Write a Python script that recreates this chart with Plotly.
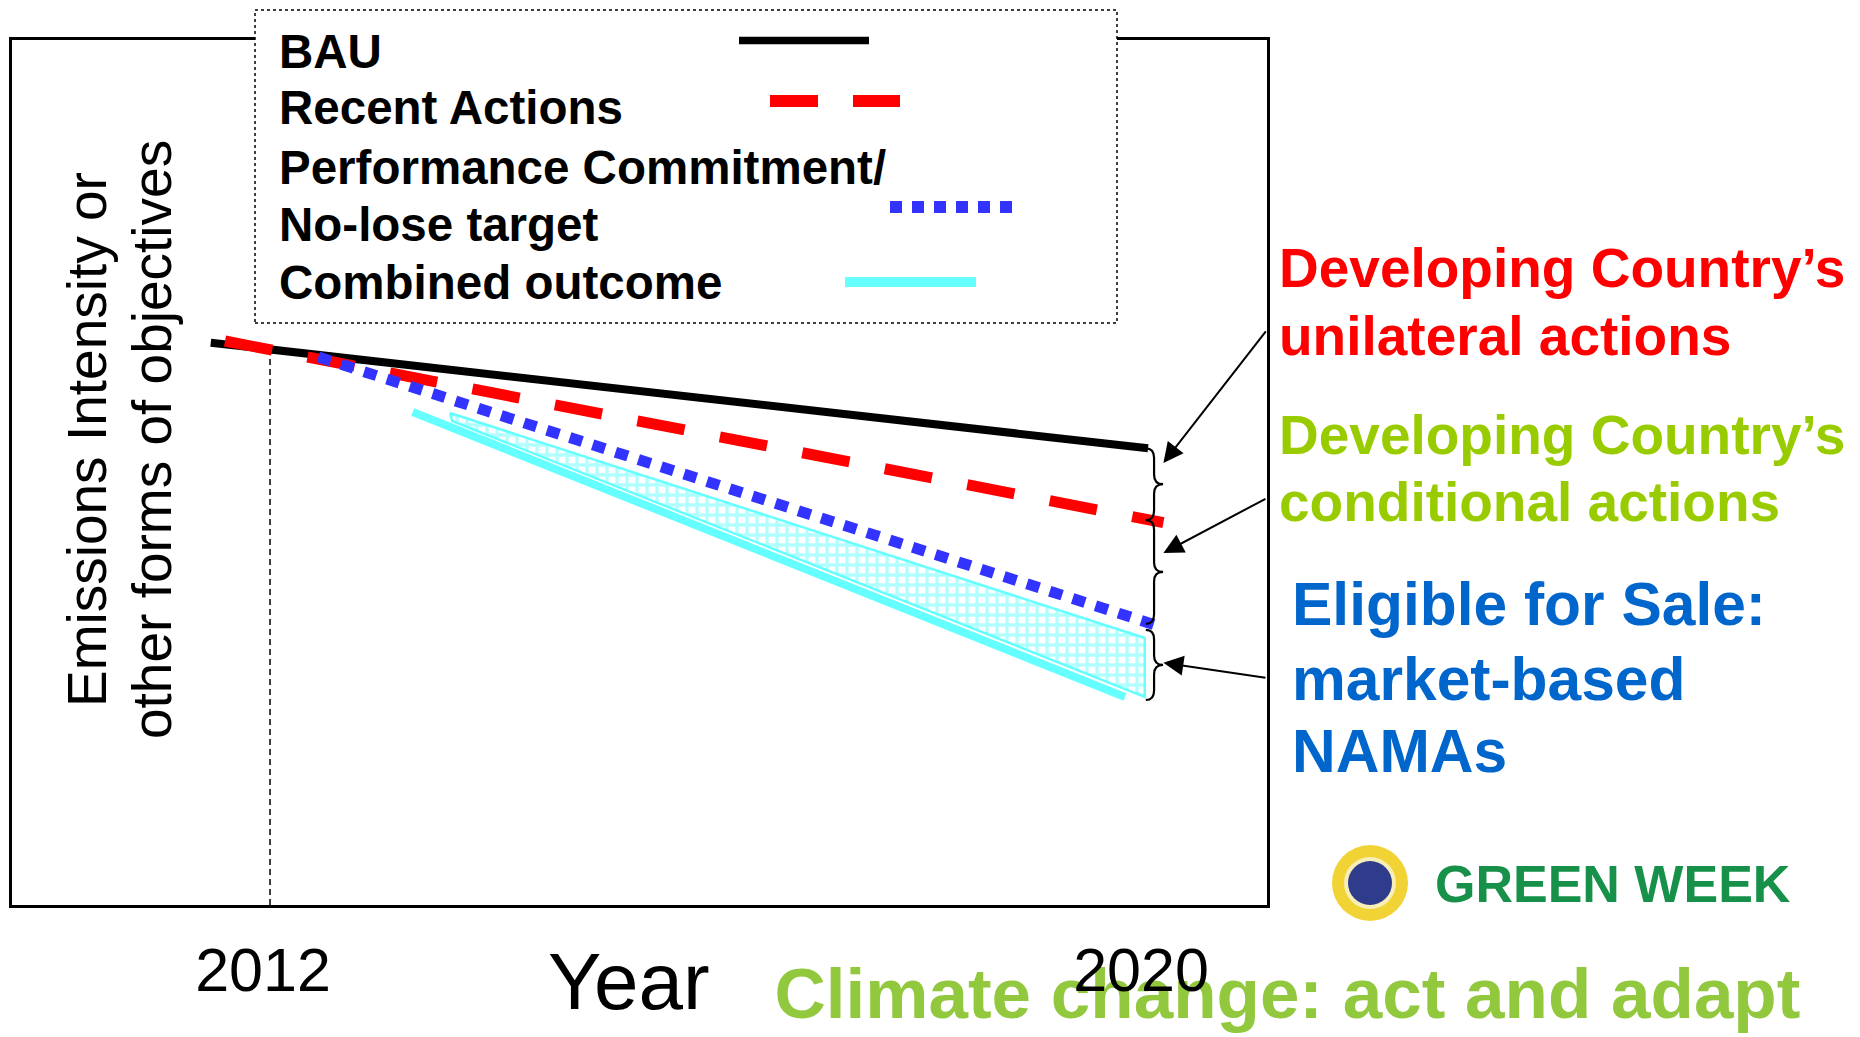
import plotly.graph_objects as go

# ---------------- data ----------------
BAU_YEARS = [2011.46, 2020.0]
BAU_VALUES = [65.0, 52.8]
RECENT_YEARS = [2011.59, 2020.14]
RECENT_VALUES = [65.2, 44.2]
TARGET_YEARS = [2012.44, 2020.06]
TARGET_VALUES = [63.35, 32.4]
COMBINED_YEARS = [2013.30, 2019.79]
COMBINED_VALUES = [57.0, 24.05]
SALE_YEARS = [2013.64, 2019.97, 2019.97, 2013.66, 2013.64]
SALE_VALUES = [56.88, 30.87, 24.05, 55.95, 56.88]
BASE_YEAR = [2012, 2012]
BASE_YEAR_VALUES = [0, 64.3]
TICK_YEARS = [2012, 2020]
TICK_LABELS = ["2012", "2020"]
X_RANGE = [2009.649, 2021.084]
Y_RANGE = [0, 100]

# braces at 2020: (upper value, lower value)
BRACE_SPANS = [(52.8, 44.5), (44.5, 32.5), (31.8, 23.7)]
ARROW_TIP_VALUES = [51.1, 40.7, 28.0]
ARROW_TAIL_VALUES = [66.5, 47.05, 26.24]

LEGEND_LABELS = ["BAU", "Recent Actions", "Performance Commitment/",
                 "No-lose target", "Combined outcome"]
Y_TITLE_LINES = ["Emissions Intensity or", "other forms of objectives"]
X_TITLE = "Year"
UNILATERAL = ["Developing Country\u2019s", "unilateral actions"]
CONDITIONAL = ["Developing Country\u2019s", "conditional actions"]
SALE = ["Eligible for Sale:", "market-based", "NAMAs"]
BANNER = "Climate change: act and adapt"
LOGO = "GREEN WEEK"

# ---------------- styles ----------------
W, H = 1860, 1037
ML, MR, MT, MB = 12, 593, 40, 132
FONT = "Liberation Sans, Arial, sans-serif"
BLACK = "#000000"
RED = "#FF0000"
BLUE = "#3333FF"
CYAN = "#66FFFF"


def px(x):
    return (x - ML) / (W - ML - MR)


def py(y):
    return (H - MB - y) / (H - MT - MB)


fig = go.Figure()

fig.add_trace(go.Scatter(x=BASE_YEAR, y=BASE_YEAR_VALUES, mode="lines",
                         line=dict(color=BLACK, width=1.5, dash="6px,4px"),
                         hoverinfo="skip"))
fig.add_trace(go.Scatter(x=SALE_YEARS, y=SALE_VALUES, mode="lines", fill="toself",
                         line=dict(color=CYAN, width=2.5),
                         fillpattern=dict(shape="+", fgcolor=CYAN, bgcolor="white",
                                          size=10, solidity=0.55),
                         hoverinfo="skip"))
fig.add_trace(go.Scatter(x=COMBINED_YEARS, y=COMBINED_VALUES, mode="lines",
                         line=dict(color=CYAN, width=8)))
fig.add_trace(go.Scatter(x=BAU_YEARS, y=BAU_VALUES, mode="lines",
                         line=dict(color=BLACK, width=8)))
fig.add_trace(go.Scatter(x=RECENT_YEARS, y=RECENT_VALUES, mode="lines",
                         line=dict(color=RED, width=11, dash="48px,36px")))
fig.add_trace(go.Scatter(x=TARGET_YEARS, y=TARGET_VALUES, mode="lines",
                         line=dict(color=BLUE, width=11, dash="13px,11px")))

shapes = []
# banner text, kept below the axis layer so the tick label sits on top
shapes.append(dict(type="rect", xref="paper", yref="paper",
                   x0=px(760), x1=px(1815), y0=py(1026), y1=py(946),
                   line=dict(width=0), fillcolor="rgba(0,0,0,0)", layer="below",
                   label=dict(text=BANNER, textposition="middle center",
                              font=dict(family=FONT, size=71, color="#92C83E",
                                        weight="bold"))))

# braces
for (yt, yb) in BRACE_SPANS:
    xb, xm, xt, d = 2019.98, 2020.055, 2020.137, 1.1
    ym = (yt + yb) / 2
    path = (f"M {xb},{yt} Q {xm},{yt} {xm},{yt - d} L {xm},{ym + d} "
            f"Q {xm},{ym} {xt},{ym} Q {xm},{ym} {xm},{ym - d} "
            f"L {xm},{yb + d} Q {xm},{yb} {xb},{yb}")
    shapes.append(dict(type="path", path=path, xref="x", yref="y",
                       line=dict(color=BLACK, width=2.2)))

# legend box
shapes.append(dict(type="rect", xref="paper", yref="paper",
                   x0=px(255), x1=px(1117), y0=py(323), y1=py(10),
                   line=dict(color=BLACK, width=1.5, dash="dot"),
                   fillcolor="white", layer="above"))
# legend keys
keys = [
    (739, 869, 40.5, dict(color=BLACK, width=7.5)),
    (770, 900, 101, dict(color=RED, width=12, dash="48px,35px")),
    (890, 1012, 207, dict(color=BLUE, width=12, dash="12px,10px")),
    (845, 976, 282, dict(color=CYAN, width=10)),
]
for x0, x1, yy, ln in keys:
    shapes.append(dict(type="line", xref="paper", yref="paper",
                       x0=px(x0), x1=px(x1), y0=py(yy), y1=py(yy), line=ln,
                       layer="above"))

# logo emblem
for r, col in [(38, "#F2D335"), (26, "#F7EEB8"), (22, "#2F3C8C")]:
    shapes.append(dict(type="circle", xref="paper", yref="paper",
                       x0=px(1370 - r), x1=px(1370 + r), y0=py(883 + r), y1=py(883 - r),
                       line=dict(width=0), fillcolor=col, layer="above"))

annotations = []
legend_y = [52, 108, 167, 225, 282]
for lab, yy in zip(LEGEND_LABELS, legend_y):
    annotations.append(dict(text=f"<b>{lab}</b>", xref="paper", yref="paper",
                            x=px(277), y=py(yy), xanchor="left", yanchor="middle",
                            showarrow=False,
                            font=dict(family=FONT, size=47.5, color=BLACK)))

for txt, xx in zip(Y_TITLE_LINES, [87, 152]):
    annotations.append(dict(text=txt, xref="paper", yref="paper", x=px(xx), y=py(440),
                            textangle=-90, xanchor="center", yanchor="middle",
                            showarrow=False,
                            font=dict(family=FONT, size=55, color=BLACK)))

annotations.append(dict(text=X_TITLE, xref="paper", yref="paper", x=px(629), y=py(981),
                        xanchor="center", yanchor="middle", showarrow=False,
                        font=dict(family=FONT, size=80, color=BLACK)))

for lines, ys, col, size, xl in [
    (UNILATERAL, [268, 335.5], RED, 55, 1277),
    (CONDITIONAL, [435, 502], "#99CC00", 55, 1277),
    (SALE, [603.5, 678.5, 750.5], "#0066CC", 60.5, 1290),
]:
    for t, yy in zip(lines, ys):
        annotations.append(dict(text=f"<b>{t}</b>", xref="paper", yref="paper",
                                x=px(xl), y=py(yy), xanchor="left", yanchor="middle",
                                showarrow=False,
                                font=dict(family=FONT, size=size, color=col)))

for tip, tail in zip(ARROW_TIP_VALUES, ARROW_TAIL_VALUES):
    annotations.append(dict(text="", x=2020.14, y=tip, ax=X_RANGE[1], ay=tail,
                            xref="x", yref="y", axref="x", ayref="y",
                            showarrow=True, arrowhead=2, arrowsize=2,
                            arrowwidth=2, arrowcolor=BLACK, standoff=0))

annotations.append(dict(text=f"<b>{LOGO}</b>", xref="paper", yref="paper",
                        x=px(1613), y=py(884), xanchor="center", yanchor="middle",
                        showarrow=False,
                        font=dict(family=FONT, size=52, color="#17914A")))

fig.update_layout(
    width=W, height=H,
    margin=dict(l=ML, r=MR, t=MT, b=MB),
    paper_bgcolor="white", plot_bgcolor="white",
    showlegend=False,
    font=dict(family=FONT, color=BLACK),
    xaxis=dict(range=X_RANGE, tickmode="array", tickvals=TICK_YEARS,
               ticktext=TICK_LABELS, ticks="", showgrid=False, zeroline=False,
               showline=True, linecolor=BLACK, linewidth=3, mirror=True,
               tickfont=dict(family=FONT, size=61, color=BLACK),
               ticklabelshift=-7, ticklabelstandoff=10, fixedrange=True),
    yaxis=dict(range=Y_RANGE, showticklabels=False, ticks="", showgrid=False,
               zeroline=False, showline=True, linecolor=BLACK, linewidth=3,
               mirror=True, fixedrange=True),
    shapes=shapes,
    annotations=annotations,
)

fig.write_html("out.html", config={"displayModeBar": False})
